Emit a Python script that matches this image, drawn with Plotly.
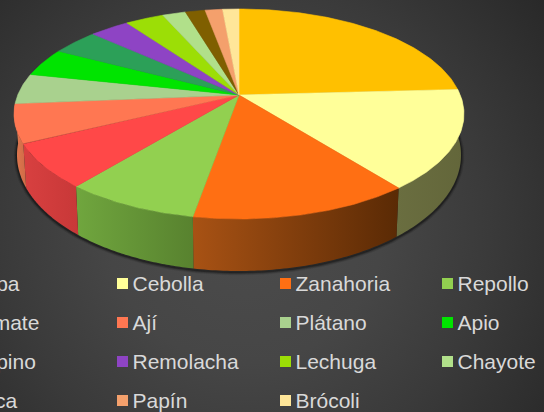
import numpy as np
import plotly.graph_objects as go

# Data (share of each slice, percent)
categories = ["Papa", "Cebolla", "Zanahoria", "Repollo", "Tomate", "Ají", "Plátano", "Apio",
              "Pepino", "Remolacha", "Lechuga", "Chayote", "Yuca", "Papín", "Brócoli"]
values = [24.2, 15.3, 13.4, 8.2, 6.8, 6.0, 4.7, 4.4, 4.0, 3.4, 3.3, 2.0, 1.7, 1.5, 1.4]
colors = ["#FFC000", "#FFFF99", "#FF6F13", "#92D050", "#FF4848", "#FF7752", "#A9D18E", "#00E400",
          "#2CA058", "#8E44C4", "#9CDE06", "#B1E08A", "#7F5F00", "#F4A06C", "#FFE699"]
wall_left = {"Cebolla": "#6A6E40", "Zanahoria": "#A85214", "Repollo": "#70A63E", "Tomate": "#D84040", "Ají": "#E07A50"}
wall_right = {"Cebolla": "#63663A", "Zanahoria": "#5A2A05", "Repollo": "#58822F", "Tomate": "#C83838", "Ají": "#D06A46"}

W, H = 544, 412
CX = 239
TOP = dict(cy=114, rx=225, ry=105)
BOT = dict(cy=155, rx=222, ry=116)
A = -0.181
S = np.sqrt(1 - A * A)


def project(theta, e):
    u, v = np.sin(theta), -np.cos(theta)
    d = 1 + A * v
    return CX + e["rx"] * u * S / d, e["cy"] + e["ry"] * (v + A) / d


edges = np.radians(np.concatenate([[0], np.cumsum(values)]) / sum(values) * 360)
apex_y = TOP["cy"] + TOP["ry"] * A

fig = go.Figure()


def poly(x, y, color=None, grad=None):
    kw = dict(fillcolor=color) if grad is None else dict(fillgradient=grad)
    fig.add_trace(go.Scatter(x=x, y=y, mode="lines" if grad is None else "none",
                             fill="toself", hoverinfo="skip", showlegend=False,
                             line=dict(color=color or "rgba(0,0,0,0)", width=0.6 if grad is None else 0), **kw))


# background
poly([-150, 640, 640, -150, -150], [-170, -170, 620, 620, -170],
     grad=dict(type="radial", colorscale=[[0, "#4c4c4c"], [0.35, "#464646"], [0.62, "#3a3a3a"], [1, "#262626"]]))

# soft contact shadow
for grow, alpha in [(3, 0.08), (2, 0.16), (1, 0.3)]:
    t = np.linspace(0, 2 * np.pi, 300)
    poly(CX + (BOT["rx"] + grow) * np.sin(t), BOT["cy"] + 1 + (BOT["ry"] + grow) * np.cos(t),
         color=f"rgba(0,0,0,{alpha})")

# walls
for i, name in enumerate(categories):
    t = np.linspace(edges[i], edges[i + 1], 60)
    tx, ty = project(t, TOP)
    bx, by = project(t, BOT)
    x = np.concatenate([tx, bx[::-1], tx[:1]])
    y = np.concatenate([ty, by[::-1], ty[:1]])
    if name in wall_left:
        poly(x, y, grad=dict(type="horizontal",
                             colorscale=[[0, wall_left[name]], [1, wall_right[name]]]))

# top faces
for i, name in enumerate(categories):
    t = np.linspace(edges[i], edges[i + 1], 80)
    tx, ty = project(t, TOP)
    poly(np.concatenate([[CX], tx, [CX]]), np.concatenate([[apex_y], ty, [apex_y]]), color=colors[i])

# legend
col_x = [-45, 117, 280, 442]
row_y = [283.5, 322.5, 361.5, 400.5]
lx = [col_x[i % 4] + 5.5 for i in range(len(categories))]
ly = [row_y[i // 4] for i in range(len(categories))]
fig.add_trace(go.Scatter(x=lx, y=ly, mode="markers", showlegend=False, hoverinfo="skip",
                         marker=dict(symbol="square", size=11, color=colors, line=dict(width=0))))
fig.add_trace(go.Scatter(x=[v + 10 for v in lx], y=[v + 2 for v in ly], mode="text", text=categories,
                         textposition="middle right", showlegend=False, hoverinfo="skip",
                         textfont=dict(family="Liberation Sans", size=21, color="#D9D9D9")))

fig.update_layout(width=W, height=H, margin=dict(l=0, r=0, t=0, b=0), autosize=False,
                  paper_bgcolor="#3a3a3a", plot_bgcolor="#3a3a3a", showlegend=False,
                  xaxis=dict(range=[0, W], visible=False, fixedrange=True),
                  yaxis=dict(range=[H, 0], visible=False, fixedrange=True))
fig.write_html("out.html", config=dict(displayModeBar=False),
               post_script="document.body.style.margin='0';document.documentElement.style.overflow='hidden';")
